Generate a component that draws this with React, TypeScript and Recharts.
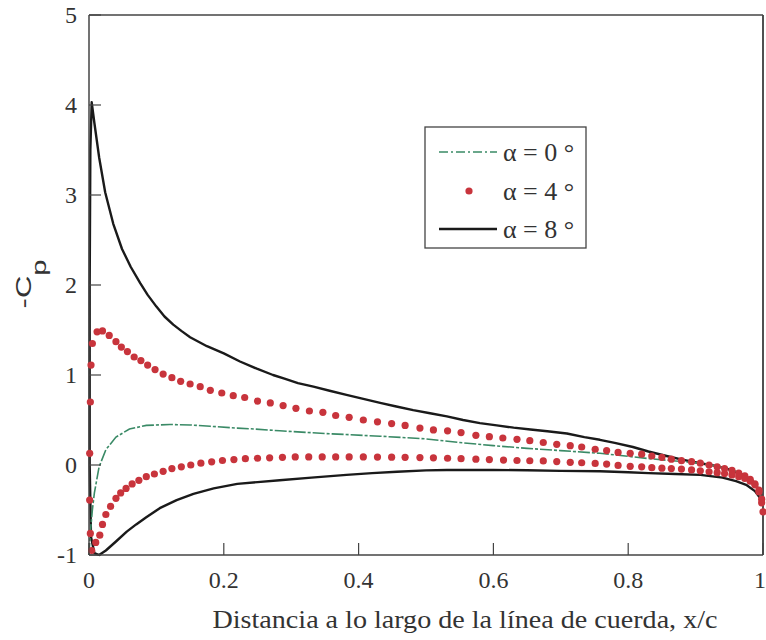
import React from 'react';
import { ComposedChart, Line, Scatter, XAxis, YAxis, Customized, ReferenceLine } from 'recharts';

// ---------- data ----------
const xTicks = [0, 0.2, 0.4, 0.6, 0.8, 1];
const yTicks = [-1, 0, 1, 2, 3, 4, 5];
const legendLabels = ['α = 0 °', 'α = 4 °', 'α = 8 °'];
const xLabel = 'Distancia a lo largo de la línea de cuerda, x/c';

// alpha = 0 deg (upper and lower coincide)
const x0 = [0, 0.002, 0.005, 0.008, 0.015, 0.025, 0.04, 0.06, 0.085, 0.12, 0.15, 0.18, 0.22, 0.245, 0.283, 0.35, 0.432, 0.5, 0.55, 0.6, 0.65, 0.7, 0.758, 0.832, 0.907, 0.95, 0.975, 0.99, 1.0];
const cp0 = [-1.0, -0.75, -0.5, -0.31, -0.02, 0.17, 0.31, 0.4, 0.44, 0.45, 0.445, 0.43, 0.41, 0.4, 0.38, 0.35, 0.32, 0.29, 0.25, 0.215, 0.185, 0.16, 0.13, 0.07, 0.02, -0.04, -0.12, -0.22, -0.4];

// alpha = 4 deg, upper surface (from stagnation point)
const x4u = [0.004, 0.002, 0.001, 0.001, 0.002, 0.003, 0.005, 0.012, 0.02, 0.03, 0.04, 0.048, 0.057, 0.067, 0.077, 0.087, 0.098, 0.11, 0.123, 0.136, 0.15, 0.165, 0.18, 0.197, 0.214, 0.231, 0.25, 0.269, 0.288, 0.307, 0.327, 0.347, 0.366, 0.386, 0.407, 0.428, 0.449, 0.469, 0.491, 0.511, 0.532, 0.552, 0.574, 0.594, 0.614, 0.635, 0.654, 0.674, 0.694, 0.714, 0.731, 0.751, 0.768, 0.785, 0.803, 0.82, 0.835, 0.85, 0.864, 0.879, 0.894, 0.907, 0.92, 0.932, 0.943, 0.954, 0.964, 0.973, 0.981, 0.988, 0.994, 0.998, 1.0];
const cp4u = [-0.95, -0.76, -0.39, 0.13, 0.7, 1.11, 1.35, 1.48, 1.49, 1.44, 1.37, 1.31, 1.26, 1.2, 1.16, 1.11, 1.06, 1.01, 0.97, 0.93, 0.9, 0.87, 0.83, 0.8, 0.77, 0.75, 0.71, 0.69, 0.66, 0.63, 0.6, 0.585, 0.55, 0.53, 0.5, 0.48, 0.46, 0.44, 0.41, 0.39, 0.38, 0.36, 0.33, 0.315, 0.3, 0.285, 0.27, 0.25, 0.23, 0.215, 0.2, 0.175, 0.16, 0.14, 0.13, 0.12, 0.1, 0.085, 0.065, 0.048, 0.037, 0.02, 0.0, -0.02, -0.04, -0.06, -0.09, -0.12, -0.16, -0.21, -0.28, -0.38, -0.52];

// alpha = 4 deg, lower surface
const x4l = [0.01, 0.016, 0.02, 0.025, 0.032, 0.04, 0.047, 0.055, 0.064, 0.074, 0.085, 0.097, 0.11, 0.123, 0.137, 0.151, 0.166, 0.182, 0.198, 0.215, 0.232, 0.25, 0.268, 0.287, 0.306, 0.326, 0.346, 0.366, 0.386, 0.407, 0.428, 0.449, 0.469, 0.491, 0.511, 0.532, 0.552, 0.574, 0.594, 0.615, 0.635, 0.654, 0.674, 0.694, 0.714, 0.731, 0.751, 0.768, 0.785, 0.803, 0.82, 0.835, 0.85, 0.864, 0.879, 0.894, 0.907, 0.92, 0.932, 0.943, 0.954, 0.964, 0.973, 0.981, 0.988, 0.994, 0.998];
const cp4l = [-0.86, -0.78, -0.66, -0.55, -0.46, -0.37, -0.31, -0.26, -0.21, -0.17, -0.13, -0.1, -0.07, -0.04, -0.02, 0.0, 0.02, 0.035, 0.05, 0.06, 0.07, 0.075, 0.08, 0.085, 0.09, 0.09, 0.09, 0.09, 0.09, 0.09, 0.088, 0.087, 0.085, 0.082, 0.08, 0.075, 0.07, 0.065, 0.06, 0.055, 0.05, 0.047, 0.045, 0.038, 0.03, 0.025, 0.018, 0.01, -0.005, -0.015, -0.02, -0.03, -0.035, -0.04, -0.045, -0.055, -0.065, -0.075, -0.085, -0.095, -0.11, -0.13, -0.15, -0.18, -0.22, -0.3, -0.42];

// alpha = 8 deg, upper TE -> leading edge -> lower TE
const x8 = [1.0, 0.995, 0.985, 0.97, 0.95, 0.93, 0.907, 0.88, 0.857, 0.83, 0.807, 0.78, 0.758, 0.735, 0.709, 0.68, 0.655, 0.63, 0.605, 0.58, 0.555, 0.531, 0.506, 0.481, 0.456, 0.432, 0.407, 0.382, 0.357, 0.333, 0.31, 0.29, 0.273, 0.249, 0.224, 0.2, 0.175, 0.15, 0.137, 0.125, 0.112, 0.1, 0.087, 0.076, 0.062, 0.049, 0.036, 0.024, 0.015, 0.008, 0.004, 0.002, 0.001, 0.001, 0.003, 0.008, 0.015, 0.025, 0.04, 0.056, 0.07, 0.085, 0.105, 0.13, 0.155, 0.185, 0.22, 0.25, 0.283, 0.33, 0.382, 0.42, 0.457, 0.5, 0.531, 0.6, 0.65, 0.7, 0.758, 0.8, 0.83, 0.87, 0.907, 0.94, 0.96, 0.975, 0.988, 0.996, 1.0];
const cp8 = [-0.4, -0.28, -0.18, -0.11, -0.05, -0.01, 0.02, 0.06, 0.1, 0.15, 0.2, 0.245, 0.28, 0.31, 0.35, 0.375, 0.395, 0.415, 0.44, 0.465, 0.5, 0.54, 0.575, 0.61, 0.65, 0.69, 0.735, 0.78, 0.825, 0.87, 0.91, 0.96, 1.0, 1.07, 1.15, 1.24, 1.32, 1.42, 1.49, 1.56, 1.65, 1.76, 1.89, 2.02, 2.2, 2.4, 2.68, 3.03, 3.42, 3.8, 4.03, 3.5, 2.0, 0.0, -0.8, -0.98, -1.0, -0.95, -0.85, -0.74, -0.66, -0.58, -0.48, -0.39, -0.32, -0.26, -0.21, -0.19, -0.17, -0.14, -0.11, -0.09, -0.075, -0.06, -0.055, -0.055, -0.058, -0.065, -0.07, -0.08, -0.09, -0.1, -0.11, -0.14, -0.18, -0.22, -0.29, -0.37, -0.45];

const toPts = (xs: number[], ys: number[]) => xs.map((x, i) => ({ x, y: ys[i] }));
const data0 = toPts(x0, cp0);
const data4u = toPts(x4u, cp4u);
const data4l = toPts(x4l, cp4l);
const data8 = toPts(x8, cp8);

// ---------- styles ----------
const SERIF = '"Liberation Serif", "Times New Roman", serif';
const SANS = '"Liberation Sans", Arial, sans-serif';
const AXIS = '#444';
const GREEN = '#3a8a66';
const RED = '#c8343c';
const BLACK = '#1a1a1a';
const TICK = 12;

const fmt = (v: number) => String(v);

const LeftTick = (p: any) => (
  <g>
    <line x1={p.x} x2={p.x + TICK} y1={p.y} y2={p.y} stroke={AXIS} strokeWidth={1.2} />
    <text x={p.x - 12} y={p.y + 8} textAnchor="end" fontFamily={SERIF} fontSize={24} fill="#333">
      {fmt(p.payload.value)}
    </text>
  </g>
);
const RightTick = (p: any) => (
  <line x1={p.x - TICK} x2={p.x} y1={p.y} y2={p.y} stroke={AXIS} strokeWidth={1.2} />
);
const BottomTick = (p: any) => {
  const last = p.payload.value === 1;
  return (
    <g>
      <line x1={p.x} x2={p.x} y1={p.y - TICK} y2={p.y} stroke={AXIS} strokeWidth={1.2} />
      <text x={last ? p.x + 3 : p.x} y={p.y + 33} textAnchor={last ? 'end' : 'middle'}
        fontFamily={SERIF} fontSize={24} fill="#333">
        {fmt(p.payload.value)}
      </text>
    </g>
  );
};
const TopTick = (p: any) => (
  <line x1={p.x} x2={p.x} y1={p.y} y2={p.y + TICK} stroke={AXIS} strokeWidth={1.2} />
);

const Dot = (p: any) => <circle cx={p.cx} cy={p.cy} r={3.6} fill={RED} />;

const LegendBox = () => {
  const rows = [152, 191, 229];
  return (
    <g>
      <rect x={425} y={127} width={161} height={121} fill="#fff" stroke={AXIS} strokeWidth={1.3} />
      <line x1={439} x2={497} y1={rows[0]} y2={rows[0]} stroke={GREEN} strokeWidth={1.6} strokeDasharray="9 3 2 3" />
      <circle cx={469} cy={rows[1]} r={3.6} fill={RED} />
      <line x1={439} x2={497} y1={rows[2]} y2={rows[2]} stroke={BLACK} strokeWidth={2.4} />
      {legendLabels.map((t, i) => (
        <text key={t} x={503} y={rows[i] + 9} fontFamily={SERIF} fontSize={26} fill="#333">
          {t}
        </text>
      ))}
    </g>
  );
};

const AxisTitles = () => (
  <g>
    <text x={465} y={628} textAnchor="middle" fontFamily={SERIF} fontSize={26} fill="#333"
      textLength={505} lengthAdjust="spacingAndGlyphs">
      {xLabel}
    </text>
    <text transform="translate(31,284) rotate(-90) scale(1,0.7)" textAnchor="middle" fontFamily={SANS}
      fontSize={31} fill="#333">
      -C<tspan dy={22} fontSize={29}>p</tspan>
    </text>
  </g>
);

export default function App() {
  return (
    <div style={{ position: 'fixed', left: 0, top: 0, width: 766, height: 640, overflow: 'hidden', background: '#fff' }}>
      <ComposedChart width={766} height={640} margin={{ top: 14, right: 2, bottom: 0, left: 0 }}>
        <XAxis xAxisId="bottom" dataKey="x" type="number" domain={[0, 1]} ticks={xTicks} interval={0}
          height={85} tickSize={0} tickMargin={0} tickLine={false} tick={BottomTick}
          axisLine={{ stroke: AXIS, strokeWidth: 1.5 }} />
        <XAxis xAxisId="top" orientation="top" type="number" domain={[0, 1]} ticks={xTicks} interval={0}
          height={1} tickSize={0} tickMargin={0} tickLine={false} tick={TopTick}
          axisLine={{ stroke: AXIS, strokeWidth: 1.5 }} />
        <YAxis yAxisId="left" dataKey="y" type="number" domain={[-1, 5]} ticks={yTicks} interval={0}
          width={89} tickSize={0} tickMargin={0} tickLine={false} tick={LeftTick}
          axisLine={{ stroke: AXIS, strokeWidth: 1.5 }} />
        <YAxis yAxisId="right" orientation="right" type="number" domain={[-1, 5]} ticks={yTicks} interval={0}
          width={1} tickSize={0} tickMargin={0} tickLine={false} tick={RightTick}
          axisLine={{ stroke: AXIS, strokeWidth: 1.5 }} />
        <ReferenceLine xAxisId="bottom" yAxisId="left" x={1} stroke={AXIS} strokeWidth={1.5} />
        <Line xAxisId="bottom" yAxisId="left" data={data8} dataKey="y" type="linear" stroke={BLACK}
          strokeWidth={2.4} dot={false} isAnimationActive={false} strokeLinejoin="round" />
        <Line xAxisId="bottom" yAxisId="left" data={data0} dataKey="y" type="linear" stroke={GREEN}
          strokeWidth={1.6} strokeDasharray="12 2 3 2" dot={false} isAnimationActive={false} />
        <Scatter xAxisId="bottom" yAxisId="left" data={data4u} dataKey="y" fill={RED} shape={Dot} isAnimationActive={false} />
        <Scatter xAxisId="bottom" yAxisId="left" data={data4l} dataKey="y" fill={RED} shape={Dot} isAnimationActive={false} />
        <Customized component={LegendBox} />
        <Customized component={AxisTitles} />
      </ComposedChart>
    </div>
  );
}
